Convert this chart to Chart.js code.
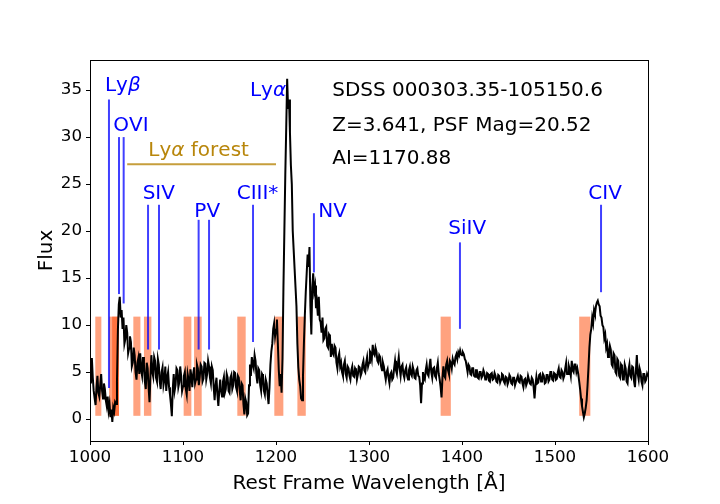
<!DOCTYPE html>
<html>
<head>
<meta charset="utf-8">
<script src="https://cdn.jsdelivr.net/npm/chart.js@4.4.1/dist/chart.umd.min.js"></script>
<style>
  html, body { margin: 0; padding: 0; background: #fff; }
  #wrap { width: 720px; height: 504px; }
</style>
</head>
<body>
<div id="wrap"><canvas id="spec" width="720" height="504"></canvas></div>
<script>
// rest frame wavelength grid (Å)
const wave = [
  1000,1001,1002,1003,1004,1005,1006,1007,1008,1009,1010,1011,1012,1013,1014,1015,1016,1017,1018,1019,
  1020,1021,1022,1023,1024,1025,1026,1027,1028,1029,1030,1031,1032,1033,1034,1035,1036,1037,1038,1039,
  1040,1041,1042,1043,1044,1045,1046,1047,1048,1049,1050,1051,1052,1053,1054,1055,1056,1057,1058,1059,
  1060,1061,1062,1063,1064,1065,1066,1067,1068,1069,1070,1071,1072,1073,1074,1075,1076,1077,1078,1079,
  1080,1081,1082,1083,1084,1085,1086,1087,1088,1089,1090,1091,1092,1093,1094,1095,1096,1097,1098,1099,
  1100,1101,1102,1103,1104,1105,1106,1107,1108,1109,1110,1111,1112,1113,1114,1115,1116,1117,1118,1119,
  1120,1121,1122,1123,1124,1125,1126,1127,1128,1129,1130,1131,1132,1133,1134,1135,1136,1137,1138,1139,
  1140,1141,1142,1143,1144,1145,1146,1147,1148,1149,1150,1151,1152,1153,1154,1155,1156,1157,1158,1159,
  1160,1161,1162,1163,1164,1165,1166,1167,1168,1169,1170,1171,1172,1173,1174,1175,1176,1177,1178,1179,
  1180,1181,1182,1183,1184,1185,1186,1187,1188,1189,1190,1191,1192,1193,1194,1195,1196,1197,1198,1199,
  1200,1201,1202,1203,1204,1205,1206,1207,1208,1209,1210,1211,1212,1213,1214,1215,1216,1217,1218,1219,
  1220,1221,1222,1223,1224,1225,1226,1227,1228,1229,1230,1231,1232,1233,1234,1235,1236,1237,1238,1239,
  1240,1241,1242,1243,1244,1245,1246,1247,1248,1249,1250,1251,1252,1253,1254,1255,1256,1257,1258,1259,
  1260,1261,1262,1263,1264,1265,1266,1267,1268,1269,1270,1271,1272,1273,1274,1275,1276,1277,1278,1279,
  1280,1281,1282,1283,1284,1285,1286,1287,1288,1289,1290,1291,1292,1293,1294,1295,1296,1297,1298,1299,
  1300,1301,1302,1303,1304,1305,1306,1307,1308,1309,1310,1311,1312,1313,1314,1315,1316,1317,1318,1319,
  1320,1321,1322,1323,1324,1325,1326,1327,1328,1329,1330,1331,1332,1333,1334,1335,1336,1337,1338,1339,
  1340,1341,1342,1343,1344,1345,1346,1347,1348,1349,1350,1351,1352,1353,1354,1355,1356,1357,1358,1359,
  1360,1361,1362,1363,1364,1365,1366,1367,1368,1369,1370,1371,1372,1373,1374,1375,1376,1377,1378,1379,
  1380,1381,1382,1383,1384,1385,1386,1387,1388,1389,1390,1391,1392,1393,1394,1395,1396,1397,1398,1399,
  1400,1401,1402,1403,1404,1405,1406,1407,1408,1409,1410,1411,1412,1413,1414,1415,1416,1417,1418,1419,
  1420,1421,1422,1423,1424,1425,1426,1427,1428,1429,1430,1431,1432,1433,1434,1435,1436,1437,1438,1439,
  1440,1441,1442,1443,1444,1445,1446,1447,1448,1449,1450,1451,1452,1453,1454,1455,1456,1457,1458,1459,
  1460,1461,1462,1463,1464,1465,1466,1467,1468,1469,1470,1471,1472,1473,1474,1475,1476,1477,1478,1479,
  1480,1481,1482,1483,1484,1485,1486,1487,1488,1489,1490,1491,1492,1493,1494,1495,1496,1497,1498,1499,
  1500,1501,1502,1503,1504,1505,1506,1507,1508,1509,1510,1511,1512,1513,1514,1515,1516,1517,1518,1519,
  1520,1521,1522,1523,1524,1525,1526,1527,1528,1529,1530,1531,1532,1533,1534,1535,1536,1537,1538,1539,
  1540,1541,1542,1543,1544,1545,1546,1547,1548,1549,1550,1551,1552,1553,1554,1555,1556,1557,1558,1559,
  1560,1561,1562,1563,1564,1565,1566,1567,1568,1569,1570,1571,1572,1573,1574,1575,1576,1577,1578,1579,
  1580,1581,1582,1583,1584,1585,1586,1587,1588,1589,1590,1591,1592,1593,1594,1595,1596,1597,1598,1599,
  1600
];

// flux, one row per 20 Å
const flux = [
  5.5, 3.8, 6.5, 4.4, 3.0, 2.2, 1.5, 3.4, 4.6, 2.8, 2.4, 3.6, 4.8, 3.0, 2.2, 3.8, 3.2, 2.0, 1.4, 2.4,
  0.9, 1.6, 0.2, 1.0, -0.3, 1.2, 0.8, 1.8, 1.6, 4.0, 9.5, 12.2, 13.0, 10.8, 11.6, 9.6, 10.8, 8.0, 8.5, 10.0,
  9.2, 7.0, 7.5, 8.8, 8.2, 5.6, 6.0, 7.6, 6.8, 5.0, 4.2, 6.0, 6.5, 4.8, 7.0, 5.2, 4.6, 6.6, 5.8, 4.0,
  3.2, 6.0, 5.4, 3.4, 1.8, 4.6, 6.8, 5.0, 4.5, 6.6, 6.2, 4.4, 4.0, 6.4, 5.8, 4.0, 3.2, 5.0, 5.5, 3.6,
  4.2, 5.6, 3.0, 4.4, 5.0, 3.4, 2.6, 1.6, 0.3, 3.2, 4.8, 3.0, 3.6, 5.4, 5.2, 3.4, 3.9, 5.6, 4.6, 3.0,
  3.5, 4.6, 5.0, 3.2, 2.6, 4.8, 4.2, 3.0, 5.3, 4.6, 3.4, 4.8, 5.5, 3.8, 4.2, 5.8, 5.4, 3.6, 4.5, 5.8,
  5.6, 4.0, 4.3, 6.0, 5.9, 4.2, 4.8, 6.2, 5.6, 4.4, 3.8, 5.6, 5.2, 3.4, 2.0, 3.6, 4.4, 2.6, 1.4, 3.0,
  4.2, 3.0, 2.4, 4.0, 4.5, 2.8, 3.2, 4.8, 4.4, 3.0, 2.8, 4.4, 4.7, 3.2, 3.6, 5.0, 4.9, 3.4, 3.0, 4.6,
  4.4, 3.0, 2.0, 3.8, 3.6, 1.6, 0.5, 2.2, 1.8, 0.4, 0.6, 3.6, 5.8, 4.6, 6.6, 5.8, 5.4, 6.8, 6.2, 4.6,
  3.8, 5.4, 5.2, 3.6, 3.0, 4.8, 4.6, 3.0, 2.6, 4.2, 3.8, 2.6, 1.6, 3.4, 5.8, 7.2, 8.0, 9.6, 10.2, 8.8,
  9.5, 10.6, 8.0, 5.2, 3.5, 4.8, 2.8, 6.5, 14.0, 20.0, 26.0, 31.0, 36.2, 33.0, 34.0, 30.5, 27.0, 25.0, 20.0, 18.0,
  16.0, 14.0, 12.0, 8.0, 5.5, 4.2, 3.5, 2.2, 2.0, 4.5, 8.0, 11.0, 13.5, 15.5, 17.5, 16.2, 18.3, 12.0, 9.0, 14.0,
  15.5, 13.6, 14.2, 11.8, 12.4, 11.0, 13.0, 10.6, 10.3, 9.2, 10.8, 8.4, 8.6, 9.6, 9.8, 7.8, 7.6, 9.0, 8.8, 6.6,
  8.0, 7.0, 6.8, 7.8, 7.6, 6.0, 5.4, 6.6, 7.0, 5.6, 6.0, 5.0, 4.6, 5.8, 6.2, 4.8, 4.4, 5.6, 5.4, 4.6,
  4.2, 5.2, 5.6, 4.6, 4.5, 5.4, 5.2, 4.2, 4.7, 5.6, 5.5, 4.6, 4.9, 5.8, 6.2, 5.2, 5.0, 6.0, 6.6, 5.6,
  6.0, 7.2, 7.0, 6.4, 7.9, 7.0, 6.8, 7.6, 7.2, 6.2, 6.0, 6.8, 6.6, 5.6, 5.2, 6.0, 5.6, 4.8, 4.2, 5.0,
  5.3, 4.4, 3.8, 4.8, 5.0, 4.2, 4.4, 5.4, 6.2, 5.2, 4.8, 5.8, 6.6, 5.4, 4.6, 5.6, 5.8, 4.8, 4.4, 5.2,
  5.5, 4.6, 4.2, 5.2, 5.6, 4.8, 4.6, 5.6, 5.2, 4.4, 4.3, 5.2, 5.4, 4.6, 4.5, 3.6, 1.7, 3.8, 5.0, 4.4,
  4.2, 5.2, 5.8, 4.8, 4.6, 5.6, 6.4, 5.0, 4.4, 5.4, 5.5, 4.6, 4.4, 5.4, 6.0, 4.8, 4.2, 3.4, 2.3, 4.4,
  5.6, 4.6, 4.4, 5.8, 6.2, 5.2, 4.8, 6.2, 6.0, 5.4, 6.4, 6.0, 5.8, 6.6, 6.9, 6.4, 7.1, 6.8, 7.3, 6.9,
  6.8, 7.1, 6.9, 6.4, 6.2, 5.6, 5.0, 5.8, 5.6, 4.8, 4.7, 5.4, 5.4, 4.6, 4.5, 5.2, 5.2, 4.4, 4.3, 5.0,
  5.0, 4.4, 4.6, 5.2, 4.9, 4.2, 4.2, 4.9, 4.8, 4.1, 4.0, 4.8, 4.9, 4.2, 4.3, 4.9, 4.6, 4.0, 3.9, 4.7,
  4.6, 3.9, 4.2, 4.8, 4.7, 4.0, 3.8, 4.5, 4.4, 3.7, 4.0, 4.7, 4.5, 3.8, 3.7, 4.4, 4.4, 3.6, 3.6, 4.3,
  4.6, 4.0, 3.9, 4.6, 4.5, 3.8, 3.4, 4.2, 4.3, 3.6, 3.9, 4.6, 4.6, 3.8, 3.7, 4.4, 4.2, 3.4, 2.2, 3.6,
  4.5, 3.8, 3.9, 4.7, 4.8, 4.0, 4.1, 4.8, 4.6, 3.8, 3.9, 4.7, 4.7, 4.0, 4.2, 5.0, 5.0, 4.2, 4.1, 4.9,
  4.8, 4.2, 4.3, 5.0, 5.4, 4.5, 4.4, 5.2, 5.0, 4.3, 4.6, 5.4, 6.0, 4.8, 4.8, 5.6, 5.2, 4.6, 6.2, 5.2,
  5.0, 5.8, 5.8, 5.0, 5.4, 4.8, 4.0, 3.2, 2.2, 1.4, 0.8, 0.2, 0.6, 1.2, 2.0, 3.6, 5.5, 7.6, 9.0, 9.6,
  10.8, 10.2, 11.6, 11.2, 12.0, 12.4, 12.6, 12.2, 12.0, 11.0, 10.8, 10.0, 9.8, 8.6, 9.0, 7.6, 8.0, 6.6, 7.0, 7.8,
  7.4, 5.8, 5.6, 7.0, 6.8, 5.0, 4.8, 6.4, 6.2, 4.6, 4.4, 5.8, 5.6, 4.2, 4.2, 5.8, 5.4, 4.0, 3.8, 5.2,
  5.8, 4.6, 4.4, 5.6, 5.5, 4.0, 3.4, 5.2, 6.8, 4.8, 4.2, 5.4, 5.0, 4.0, 3.6, 4.8, 4.8, 4.0, 4.2, 4.8,
  4.5
];

const xTicks = [1000, 1100, 1200, 1300, 1400, 1500, 1600];
const yTicks = [0, 5, 10, 15, 20, 25, 30, 35];

// absorption windows (shaded)
const bandStart = [1005.7, 1020.5, 1023.8, 1046.6, 1058.0, 1100.7, 1111.9, 1158.4, 1198.2, 1223.0, 1377.0, 1526.0];
const bandEnd   = [1012.2, 1031.2, 1031.2, 1054.2, 1066.0, 1109.0, 1120.1, 1167.4, 1207.9, 1232.0, 1388.0, 1538.0];
const bandLow = 0.35;
const bandHigh = 10.9;

// emission / absorption line markers
const lineWave   = [1020.4, 1031.2, 1036.2, 1062.4, 1074.2, 1116.8, 1128.0, 1175.3, 1240.8, 1397.8, 1549.5];
const lineTop    = [34.0, 30.0, 30.0, 22.8, 22.8, 21.2, 21.2, 22.8, 21.9, 18.8, 22.8];
const lineBottom = [3.3, 13.3, 12.3, 7.4, 7.4, 7.4, 7.4, 8.2, 15.6, 9.6, 13.5];

const lineNames = ['Lyβ', 'OVI', 'SIV', 'PV', 'CIII*', 'Lyα', 'NV', 'SiIV', 'CIV'];
const nameX = [1016.1, 1025.0, 1056.6, 1112.2, 1157.7, 1172.0, 1245.5, 1385.3, 1535.8];
const nameY = [34.9, 30.6, 23.4, 21.5, 23.4, 34.4, 21.5, 19.7, 23.4];

const forestLabel = 'Lyα forest';
const forestFrom = 1040, forestTo = 1200, forestLevel = 27.1;
const forestLabelX = 1062.7, forestLabelY = 28.0;

const infoLines = ['SDSS 000303.35-105150.6', 'Z=3.641, PSF Mag=20.52', 'AI=1170.88'];
const infoX = 1260.5;
const infoY = [34.4, 30.6, 27.1];

const FONT = '"DejaVu Sans", sans-serif';
const ANN_SIZE = 20;

// draws text, greek letters in italic like mathtext
function drawMixed(ctx, text, px, py, color) {
  ctx.fillStyle = color;
  ctx.textBaseline = 'alphabetic';
  ctx.textAlign = 'left';
  let cx = px;
  for (const ch of text) {
    const greek = 'αβ'.includes(ch);
    ctx.font = (greek ? 'italic ' : '') + ANN_SIZE + 'px ' + FONT;
    ctx.fillText(ch, cx, py);
    cx += ctx.measureText(ch).width;
  }
}

const overlay = {
  id: 'overlay',
  beforeDatasetsDraw(chart) {
    const { ctx, scales: { x, y } } = chart;
    ctx.save();
    ctx.fillStyle = 'rgba(255,69,0,0.5)';
    const yHi = y.getPixelForValue(bandHigh), yLo = y.getPixelForValue(bandLow);
    bandStart.forEach((s, i) => {
      const x0 = x.getPixelForValue(s), x1 = x.getPixelForValue(bandEnd[i]);
      ctx.fillRect(x0, yHi, x1 - x0, yLo - yHi);
    });

    ctx.strokeStyle = 'rgba(0,0,255,0.75)';
    ctx.lineWidth = 2;
    lineWave.forEach((w, i) => {
      const px = x.getPixelForValue(w);
      ctx.beginPath();
      ctx.moveTo(px, y.getPixelForValue(lineBottom[i]));
      ctx.lineTo(px, y.getPixelForValue(lineTop[i]));
      ctx.stroke();
    });

    ctx.strokeStyle = 'rgba(184,134,11,0.8)';
    ctx.beginPath();
    const gy = y.getPixelForValue(forestLevel);
    ctx.moveTo(x.getPixelForValue(forestFrom), gy);
    ctx.lineTo(x.getPixelForValue(forestTo), gy);
    ctx.stroke();
    ctx.restore();
  },
  afterDatasetsDraw(chart) {
    const { ctx, chartArea: a, scales: { x, y } } = chart;
    ctx.save();
    lineNames.forEach((n, i) => {
      drawMixed(ctx, n, x.getPixelForValue(nameX[i]), y.getPixelForValue(nameY[i]), '#0000ff');
    });
    drawMixed(ctx, forestLabel, x.getPixelForValue(forestLabelX), y.getPixelForValue(forestLabelY), '#b8860b');
    infoLines.forEach((t, i) => {
      drawMixed(ctx, t, x.getPixelForValue(infoX), y.getPixelForValue(infoY[i]), '#000000');
    });
    // frame like matplotlib spines
    ctx.strokeStyle = '#000';
    ctx.lineWidth = 1;
    ctx.strokeRect(Math.round(a.left) + 0.5, Math.round(a.top) + 0.5,
                   Math.round(a.right - a.left), Math.round(a.bottom - a.top));
    ctx.restore();
  }
};

const points = wave.map((w, i) => ({ x: w, y: flux[i] }));

new Chart(document.getElementById('spec'), {
  type: 'line',
  data: {
    datasets: [{
      data: points,
      borderColor: '#000000',
      borderWidth: 2,
      pointRadius: 0,
      tension: 0,
      fill: false
    }]
  },
  options: {
    responsive: false,
    animation: false,
    devicePixelRatio: 1,
    layout: { padding: { top: 60, right: 72, left: 0, bottom: 0 } },
    plugins: { legend: { display: false }, tooltip: { enabled: false } },
    scales: {
      x: {
        type: 'linear',
        min: 1000,
        max: 1600,
        afterBuildTicks: s => { s.ticks = xTicks.map(v => ({ value: v })); },
        afterFit: s => { s.height = 63; },
        grid: { drawOnChartArea: false, tickLength: 4, color: '#000' },
        border: { color: '#000' },
        ticks: {
          color: '#000', font: { family: FONT, size: 16.7 }, padding: 3, maxRotation: 0,
          callback: v => String(v)
        },
        title: {
          display: true, text: 'Rest Frame Wavelength [Å]', color: '#000',
          font: { family: FONT, size: 20 }, padding: { top: 0, bottom: 8 }
        }
      },
      y: {
        type: 'linear',
        min: -2.33,
        max: 38.2,
        afterBuildTicks: s => { s.ticks = yTicks.map(v => ({ value: v })); },
        afterFit: s => { s.width = 90; },
        grid: { drawOnChartArea: false, tickLength: 4, color: '#000' },
        border: { color: '#000' },
        ticks: {
          color: '#000', font: { family: FONT, size: 16.7 }, padding: 4,
          callback: v => String(v)
        },
        title: {
          display: true, text: 'Flux', color: '#000',
          font: { family: FONT, size: 20 }, padding: { top: 35, bottom: 0 }
        }
      }
    }
  },
  plugins: [overlay]
});
</script>
</body>
</html>
